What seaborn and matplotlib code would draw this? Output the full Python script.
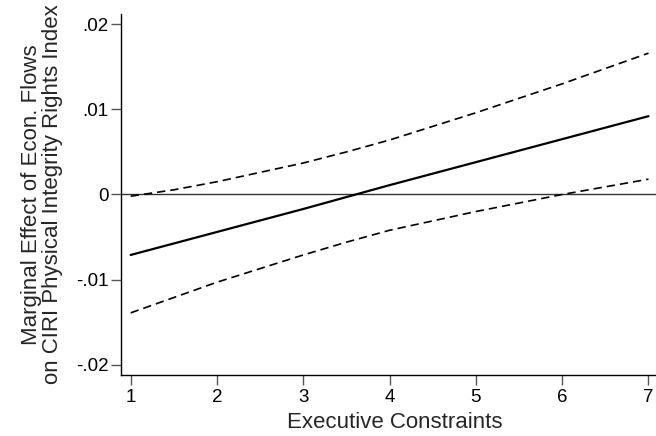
import pandas as pd
import matplotlib
matplotlib.use('Agg')
import matplotlib.pyplot as plt
import seaborn as sns

# executive constraints values and marginal effect estimates
exec_constraints = [1, 1.5, 2, 2.5, 3, 3.5, 4, 4.5, 5, 5.5, 6, 6.5, 7]
marginal_effect = [-0.0071, -0.00575, -0.0044, -0.00305, -0.0017, -0.0003, 0.0011,
                   0.00245, 0.0038, 0.00515, 0.0065, 0.00785, 0.0092]
upper_ci = [-0.0002, 0.00055, 0.0015, 0.0026, 0.0037, 0.0050, 0.0064,
            0.0080, 0.0096, 0.0113, 0.0130, 0.0148, 0.0166]
lower_ci = [-0.0139, -0.0121, -0.0103, -0.0087, -0.0071, -0.0056, -0.0042,
            -0.0031, -0.0020, -0.0010, 0.0000, 0.0009, 0.0018]

y_ticks = [-0.02, -0.01, 0, 0.01, 0.02]
y_tick_labels = ['-.02', '-.01', '0', '.01', '.02']
x_ticks = [1, 2, 3, 4, 5, 6, 7]

df = pd.DataFrame({'x': exec_constraints, 'me': marginal_effect,
                   'hi': upper_ci, 'lo': lower_ci})

sns.set_style('ticks')
plt.rcParams['font.family'] = ['Liberation Sans', 'DejaVu Sans']

fig = plt.figure(figsize=(6.56, 4.36), dpi=100)
ax = fig.add_axes([0.1845, 0.1399, 0.8155, 0.828])

# zero reference line
ax.axhline(0, color='#333333', linewidth=1.0, zorder=1)

# point estimate and confidence bounds
sns.lineplot(data=df, x='x', y='me', ax=ax, color='black', linewidth=1.6)
sns.lineplot(data=df, x='x', y='hi', ax=ax, color='black', linewidth=1.2,
             linestyle=(0, (5, 3)))
sns.lineplot(data=df, x='x', y='lo', ax=ax, color='black', linewidth=1.2,
             linestyle=(0, (5, 3)))

ax.set_xlim(0.888, 7.087)
ax.set_ylim(-0.0212, 0.0212)
ax.set_xticks(x_ticks)
ax.set_xticklabels([str(t) for t in x_ticks])
ax.set_yticks(y_ticks)
ax.set_yticklabels(y_tick_labels)

ax.tick_params(axis='both', direction='out', length=7, width=1, color='#555555',
               labelsize=13.5, labelcolor='black')
ax.tick_params(axis='x', pad=3)
ax.tick_params(axis='y', pad=2)

for side in ['top', 'right']:
    ax.spines[side].set_visible(False)
for side in ['left', 'bottom']:
    ax.spines[side].set_color('black')
    ax.spines[side].set_linewidth(1.0)

ax.set_xlabel('Executive Constraints', fontsize=16)
ax.set_ylabel('Marginal Effect of Econ. Flows\non CIRI Physical Integrity Rights Index',
              fontsize=16, linespacing=1.0)
ax.xaxis.set_label_coords((395 - 121) / 535, -0.102)
ax.yaxis.set_label_coords(-0.108, 0.5)

fig.savefig('out.png', dpi=100)
